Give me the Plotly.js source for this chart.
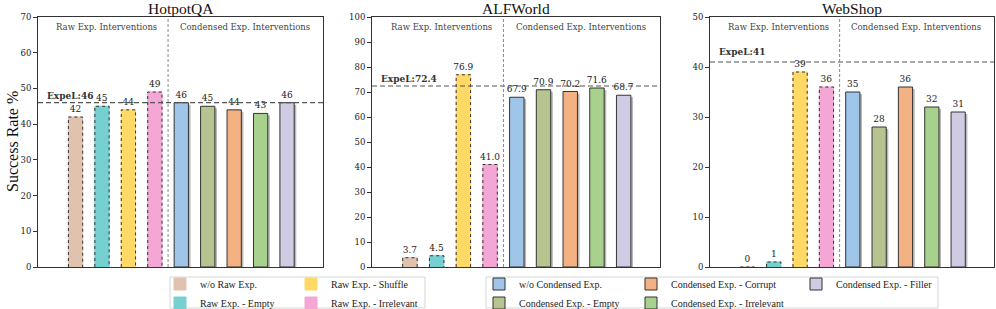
<!DOCTYPE html>
<html><head><meta charset="utf-8">
<script src="https://cdn.plot.ly/plotly-3.0.1.min.js"></script>
<style>html,body{margin:0;padding:0;background:#fff}#chart{width:996px;height:309px}</style>
</head><body><div id="chart"></div>
<script>
// ---- data ----
const categories = ['w/o Raw Exp.', 'Raw Exp. - Empty', 'Raw Exp. - Shuffle', 'Raw Exp. - Irrelevant',
  'w/o Condensed Exp.', 'Condensed Exp. - Empty', 'Condensed Exp. - Corrupt', 'Condensed Exp. - Irrelevant', 'Condensed Exp. - Filler'];
const hotpotqa = [42, 45, 44, 49, 46, 45, 44, 43, 46];
const alfworld = [3.7, 4.5, 76.9, 41.0, 67.9, 70.9, 70.2, 71.6, 68.7];
const webshop = [0, 1, 39, 36, 35, 28, 36, 32, 31];
const expelScores = [46, 72.4, 41];
const panelTitles = ['HotpotQA', 'ALFWorld', 'WebShop'];
const yAxisMax = [70, 100, 50];
const valueDecimals = [0, 1, 0];
const groupLabels = ['Raw Exp. Interventions', 'Condensed Exp. Interventions'];
const yAxisLabel = 'Success Rate %';

// ---- style ----
const barColors = ['#dfc3ae', '#76d0d0', '#ffd966', '#f4a6d4', '#9fc5e8', '#b6c48f', '#f4b183', '#a9d18e', '#d0cbe3'];
const legendWidths = [86, 86, 88, 88, 107, 107, 120, 120, 97];
const W = 0.54;
const numFont = 'DejaVu Serif';
const txtFont = 'Liberation Serif';
const panelData = [hotpotqa, alfworld, webshop];
const xPx = [[38, 323], [372, 660], [710, 994]];
const yPx = [17, 267];
const FW = 996, FH = 309;
const plotH = yPx[1] - yPx[0];
const legendFrames = [[170, 425], [486, 938]];
const legendFrameY = [277, 308];

const traces = [];
const legendBase = {y: (FH - 269.5) / FH, xanchor: 'left', yanchor: 'top', orientation: 'h', traceorder: 'grouped',
  bgcolor: 'rgba(0,0,0,0)', borderwidth: 0, font: {family: txtFont, size: 10, color: '#222'}};
const layout = {
  width: FW, height: FH, margin: {l: 0, r: 0, t: 0, b: 0, autoexpand: false},
  paper_bgcolor: '#fff', plot_bgcolor: '#fff',
  font: {family: txtFont, color: '#222'},
  barmode: 'overlay', showlegend: true,
  shapes: [], annotations: [],
  legend: Object.assign({}, legendBase, {x: 160 / FW}),
  legend2: Object.assign({}, legendBase, {x: 479 / FW})
};
legendFrames.forEach(f => {
  layout.shapes.push({type: 'rect', xref: 'paper', yref: 'paper', x0: f[0] / FW, x1: f[1] / FW,
    y0: (FH - legendFrameY[1]) / FH, y1: (FH - legendFrameY[0]) / FH,
    line: {color: '#d6d6d6', width: 1}, fillcolor: '#fff', layer: 'above'});
});

panelData.forEach((vals, k) => {
  const xa = 'x' + (k === 0 ? '' : k + 1), ya = 'y' + (k === 0 ? '' : k + 1);
  const xaKey = 'xaxis' + (k === 0 ? '' : k + 1), yaKey = 'yaxis' + (k === 0 ? '' : k + 1);
  layout[xaKey] = {domain: [xPx[k][0] / FW, xPx[k][1] / FW], range: [-1.42, 9.36], anchor: ya,
    showticklabels: false, ticks: '', showgrid: false, zeroline: false, showline: true, mirror: true, linecolor: '#333', linewidth: 1, fixedrange: true};
  layout[yaKey] = {domain: [(FH - yPx[1]) / FH, (FH - yPx[0]) / FH], range: [0, yAxisMax[k]], dtick: 10, anchor: xa,
    ticks: 'outside', ticklen: 4, tickcolor: '#333', showgrid: false, zeroline: false, showline: true, mirror: true,
    linecolor: '#333', linewidth: 1, tickfont: {family: numFont, size: 8.5, color: '#222'}, fixedrange: true};
  const pxPerUnitY = plotH / yAxisMax[k];
  // shadows for condensed bars
  vals.forEach((v, i) => {
    if (i < 4) return;
    traces.push({type: 'bar', x: [i], y: [v - 2 / pxPerUnitY], width: [W], offset: [-W / 2 + 0.08], xaxis: xa, yaxis: ya,
      marker: {color: 'rgba(0,0,0,0.28)', line: {width: 0}}, showlegend: false, hoverinfo: 'skip'});
  });
  vals.forEach((v, i) => {
    const raw = i < 4;
    traces.push({type: 'bar', x: [i], y: [v], width: [W], xaxis: xa, yaxis: ya, name: categories[i],
      legend: raw ? 'legend' : 'legend2',
      legendgroup: raw ? 'r' + Math.floor(i / 2) : 'c' + Math.floor((i - 4) / 2),
      legendwidth: legendWidths[i],
      showlegend: k === 0,
      marker: {color: barColors[i], line: {color: raw ? barColors[i] : '#333', width: 1}},
      text: [v.toFixed(valueDecimals[k])], textposition: 'outside', cliponaxis: false, constraintext: 'none',
      textfont: {family: numFont, size: 9, color: '#222'}, hoverinfo: 'skip'});
  });
  // dotted outlines for raw bars
  vals.forEach((v, i) => {
    if (i >= 4) return;
    traces.push({type: 'scatter', mode: 'lines', x: [i - W / 2, i - W / 2, i + W / 2, i + W / 2], y: [0, v, v, 0],
      xaxis: xa, yaxis: ya, line: {color: '#333', width: 1, dash: 'dot'}, showlegend: false, hoverinfo: 'skip', cliponaxis: false});
  });
  // ExpeL baseline
  layout.shapes.push({type: 'line', xref: xa + ' domain', x0: 0, x1: 1, yref: ya, y0: expelScores[k], y1: expelScores[k],
    line: {color: '#555', width: 1.2, dash: '5px,3px'}, layer: 'above'});
  // divider
  layout.shapes.push({type: 'line', xref: xa, x0: 3.5, x1: 3.5, yref: ya + ' domain', y0: 0, y1: 1,
    line: {color: '#888', width: 1, dash: '3px,2px'}, layer: 'above'});
  layout.annotations.push({xref: xa + ' domain', x: 0.026, xanchor: 'left', yref: ya, y: expelScores[k], yanchor: 'bottom', yshift: k === 2 ? 3 : 0,
    text: '<b>ExpeL:' + expelScores[k] + '</b>', showarrow: false, font: {family: numFont, size: 9, color: '#333'}});
  layout.annotations.push({xref: xa + ' domain', x: 0.24, xanchor: 'center', yref: ya + ' domain', y: 1 - 10 / plotH, yanchor: 'middle',
    text: groupLabels[0], showarrow: false, font: {family: numFont, size: 8.5, color: '#444'}});
  layout.annotations.push({xref: xa + ' domain', x: 0.726, xanchor: 'center', yref: ya + ' domain', y: 1 - 10 / plotH, yanchor: 'middle',
    text: groupLabels[1], showarrow: false, font: {family: numFont, size: 8.5, color: '#444'}});
  layout.annotations.push({xref: xa + ' domain', x: 0.5, xanchor: 'center', yref: 'paper', y: 1 - 8.5 / FH, yanchor: 'middle',
    text: panelTitles[k], showarrow: false, font: {family: txtFont, size: 15.5, color: '#111'}});
});
layout.annotations.push({xref: 'paper', x: 12 / FW, xanchor: 'center', yref: 'paper', y: (FH - (yPx[0] + yPx[1]) / 2) / FH, yanchor: 'middle',
  textangle: -90, text: yAxisLabel, showarrow: false, font: {family: txtFont, size: 16, color: '#111'}});

Plotly.newPlot('chart', traces, layout, {staticPlot: true, displayModeBar: false});
</script></body></html>
